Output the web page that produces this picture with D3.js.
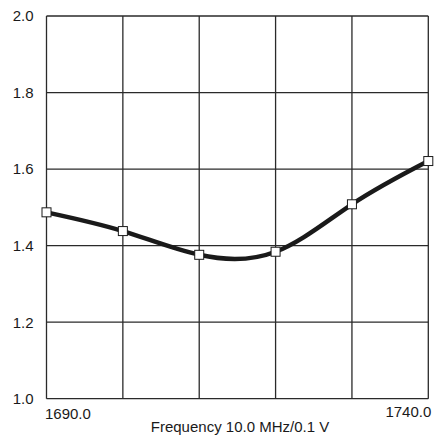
<!DOCTYPE html>
<html>
<head>
<meta charset="utf-8">
<script src="https://cdn.jsdelivr.net/npm/d3@7"></script>
<style>
  body { margin: 0; background: #fff; }
  text { font-family: "Liberation Sans", Arial, sans-serif; fill: #1a1a1a; }
</style>
</head>
<body>
<div id="chart"></div>
<script>
// values
var freqs = [1690, 1700, 1710, 1720, 1730, 1740];
var volts = [1.487, 1.438, 1.376, 1.384, 1.508, 1.621];
var yTicks = [1.0, 1.2, 1.4, 1.6, 1.8, 2.0];
var xTicks = [1690, 1700, 1710, 1720, 1730, 1740];
var xTitle = "Frequency 10.0 MHz/0.1 V";

var width = 434, height = 436;
var plotLeft = 46.5, plotRight = 428.3, plotTop = 16, plotBottom = 398.7;

var data = freqs.map(function(f, i) { return { f: f, v: volts[i] }; });

var x = d3.scaleLinear().domain([1690, 1740]).range([plotLeft, plotRight]);
var y = d3.scaleLinear().domain([1.0, 2.0]).range([plotBottom, plotTop]);

var svg = d3.select("#chart").append("svg")
    .attr("width", width)
    .attr("height", height);

// grid
svg.append("g").selectAll("line").data(yTicks).enter().append("line")
    .attr("x1", plotLeft).attr("x2", plotRight)
    .attr("y1", function(d) { return y(d); })
    .attr("y2", function(d) { return y(d); })
    .style("stroke", "#2a2a2a").style("stroke-width", 1.3);

svg.append("g").selectAll("line").data(xTicks).enter().append("line")
    .attr("y1", plotTop).attr("y2", plotBottom)
    .attr("x1", function(d) { return x(d); })
    .attr("x2", function(d) { return x(d); })
    .style("stroke", "#2a2a2a").style("stroke-width", 1.3);

// y labels
svg.append("g").selectAll("text").data(yTicks).enter().append("text")
    .attr("x", 33.5)
    .attr("y", function(d) { return y(d); })
    .attr("dy", "0.36em")
    .attr("text-anchor", "end")
    .style("font-size", "15px")
    .text(function(d) { return d3.format(".1f")(d); });

// x end labels
svg.append("text")
    .attr("x", x(1690) - 1.5).attr("y", 419)
    .style("font-size", "15px")
    .text(d3.format(".1f")(xTicks[0]));

svg.append("text")
    .attr("x", x(1740) + 3).attr("y", 416.5)
    .attr("text-anchor", "end")
    .style("font-size", "15px")
    .text(d3.format(".1f")(xTicks[xTicks.length - 1]));

svg.append("text")
    .attr("x", 240).attr("y", 432)
    .attr("text-anchor", "middle")
    .style("font-size", "15px")
    .text(xTitle);

// curve
var line = d3.line()
    .curve(d3.curveNatural)
    .x(function(d) { return x(d.f); })
    .y(function(d) { return y(d.v); });

svg.append("path")
    .datum(data)
    .attr("d", line)
    .style("fill", "none")
    .style("stroke", "#1a1a1a")
    .style("stroke-width", 4.5);

svg.append("g").selectAll("rect").data(data).enter().append("rect")
    .attr("x", function(d) { return x(d.f) - 4.5; })
    .attr("y", function(d) { return y(d.v) - 4.5; })
    .attr("width", 9).attr("height", 9)
    .style("fill", "#fff")
    .style("stroke", "#1a1a1a")
    .style("stroke-width", 1);
</script>
</body>
</html>
